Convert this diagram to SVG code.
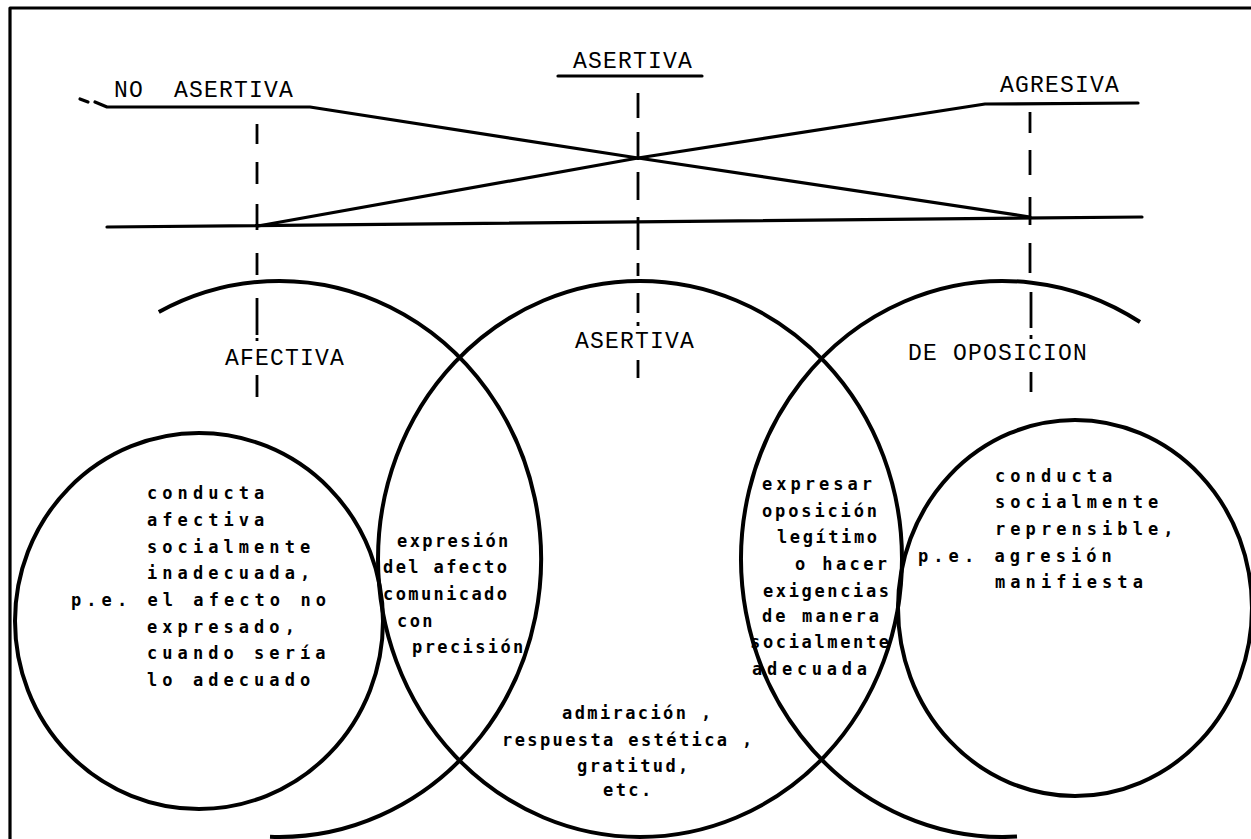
<svg xmlns="http://www.w3.org/2000/svg" width="1251" height="839" viewBox="0 0 1251 839">
<defs>
<style>
.ln{fill:none;stroke:#000;stroke-width:3.2;stroke-linecap:round;stroke-linejoin:round}
.ds{fill:none;stroke:#000;stroke-width:2.8}
.cr{fill:none;stroke:#000;stroke-width:4}
.hd{font-family:"Liberation Mono",monospace;font-size:23px;letter-spacing:1.2px;fill:#000}
.tx{font-family:"DejaVu Sans Mono",monospace;font-size:17px;font-weight:bold;fill:#000}
.w15{letter-spacing:5.06px}
.w13{letter-spacing:2.4px}
</style>
</defs>
<rect width="1251" height="839" fill="#fff"/>
<g id="frame">
<path class="ln" stroke-width="2.5" d="M10,839 V8 H1251"/>
</g>
<g id="scale">
<path class="ln" d="M80,99 L88,102"/>
<path class="ln" d="M95,102 L107,107 L310,107 L638,158 L1030,217"/>
<path class="ln" d="M258,226 L638,158 L985,104 L1138,103"/>
<path class="ln" d="M107,227 L1142,217"/>
<path class="ln" d="M558,76 L702,76"/>
</g>
<g id="connectors">
<path class="ds" d="M257,124V144 M257,162V184 M257,204V230 M257,253V275 M257,298V335 M257,338V341 M257,375V397"/>
<path class="ds" d="M638,93V118 M638,132V160 M638,172V200 M638,217V250 M638,263V276 M638,293V313 M638,322V326 M638,360V378"/>
<path class="ds" d="M1030,112V133 M1030,150V175 M1030,197V225 M1030,243V273 M1031,292V328 M1031,335V339 M1031,372V392"/>
</g>
<g id="labels">
<text class="hd" x="114" y="97" xml:space="preserve">NO  ASERTIVA</text>
<text class="hd" x="573" y="68">ASERTIVA</text>
<text class="hd" x="1000" y="92">AGRESIVA</text>
</g>
<g id="afectiva">
<path class="cr" d="M158.8,312 A262,278 0 1 1 270,836.8"/>
<text class="hd" x="225" y="365">AFECTIVA</text>
</g>
<g id="asertiva">
<ellipse class="cr" cx="640" cy="559" rx="262" ry="278"/>
<text class="hd" x="575" y="348">ASERTIVA</text>
<text class="tx w13" x="562" y="719">admiración ,</text>
<text class="tx w13" x="502" y="746">respuesta estética ,</text>
<text class="tx w13" x="577" y="772">gratitud,</text>
<text class="tx w13" x="603" y="796">etc.</text>
</g>
<g id="de-oposicion">
<path class="cr" d="M1140,322 A262,278 0 1 0 1017,836.6"/>
<text class="hd" x="908" y="360">DE OPOSICION</text>
</g>
<g id="lens-afecto">
<text class="tx w13" x="397" y="547">expresión</text>
<text class="tx w13" x="383" y="573">del afecto</text>
<text class="tx w13" x="383" y="600">comunicado</text>
<text class="tx w13" x="397" y="627">con</text>
<text class="tx w13" x="412" y="653">precisión</text>
</g>
<g id="lens-oposicion">
<text class="tx" x="762" y="490" textLength="110" lengthAdjust="spacing">expresar</text>
<text class="tx" x="762" y="517" textLength="115" lengthAdjust="spacing">oposición</text>
<text class="tx" x="777" y="543" textLength="100" lengthAdjust="spacing">legítimo</text>
<text class="tx" x="795" y="570" textLength="92" lengthAdjust="spacing">o hacer</text>
<text class="tx" x="763" y="597" textLength="126" lengthAdjust="spacing">exigencias</text>
<text class="tx" x="762" y="622" textLength="117" lengthAdjust="spacing">de manera</text>
<text class="tx" x="750" y="648" textLength="139" lengthAdjust="spacing">socialmente</text>
<text class="tx" x="752" y="675" textLength="115" lengthAdjust="spacing">adecuada</text>
</g>
<g id="circle-left">
<ellipse class="cr" cx="199" cy="621" rx="184" ry="188"/>
<text class="tx w15" x="147" y="499">conducta</text>
<text class="tx w15" x="147" y="526">afectiva</text>
<text class="tx w15" x="147" y="553">socialmente</text>
<text class="tx w15" x="147" y="579">inadecuada,</text>
<text class="tx w15" x="71" y="606">p.e. el afecto no</text>
<text class="tx w15" x="147" y="633">expresado,</text>
<text class="tx w15" x="147" y="659">cuando sería</text>
<text class="tx w15" x="147" y="686">lo adecuado</text>
</g>
<g id="circle-right">
<ellipse class="cr" cx="1075" cy="608" rx="177" ry="188"/>
<text class="tx w15" x="995" y="482">conducta</text>
<text class="tx w15" x="995" y="508">socialmente</text>
<text class="tx w15" x="995" y="535">reprensible,</text>
<text class="tx w15" x="918" y="562">p.e. agresión</text>
<text class="tx w15" x="995" y="588">manifiesta</text>
</g>
</svg>
